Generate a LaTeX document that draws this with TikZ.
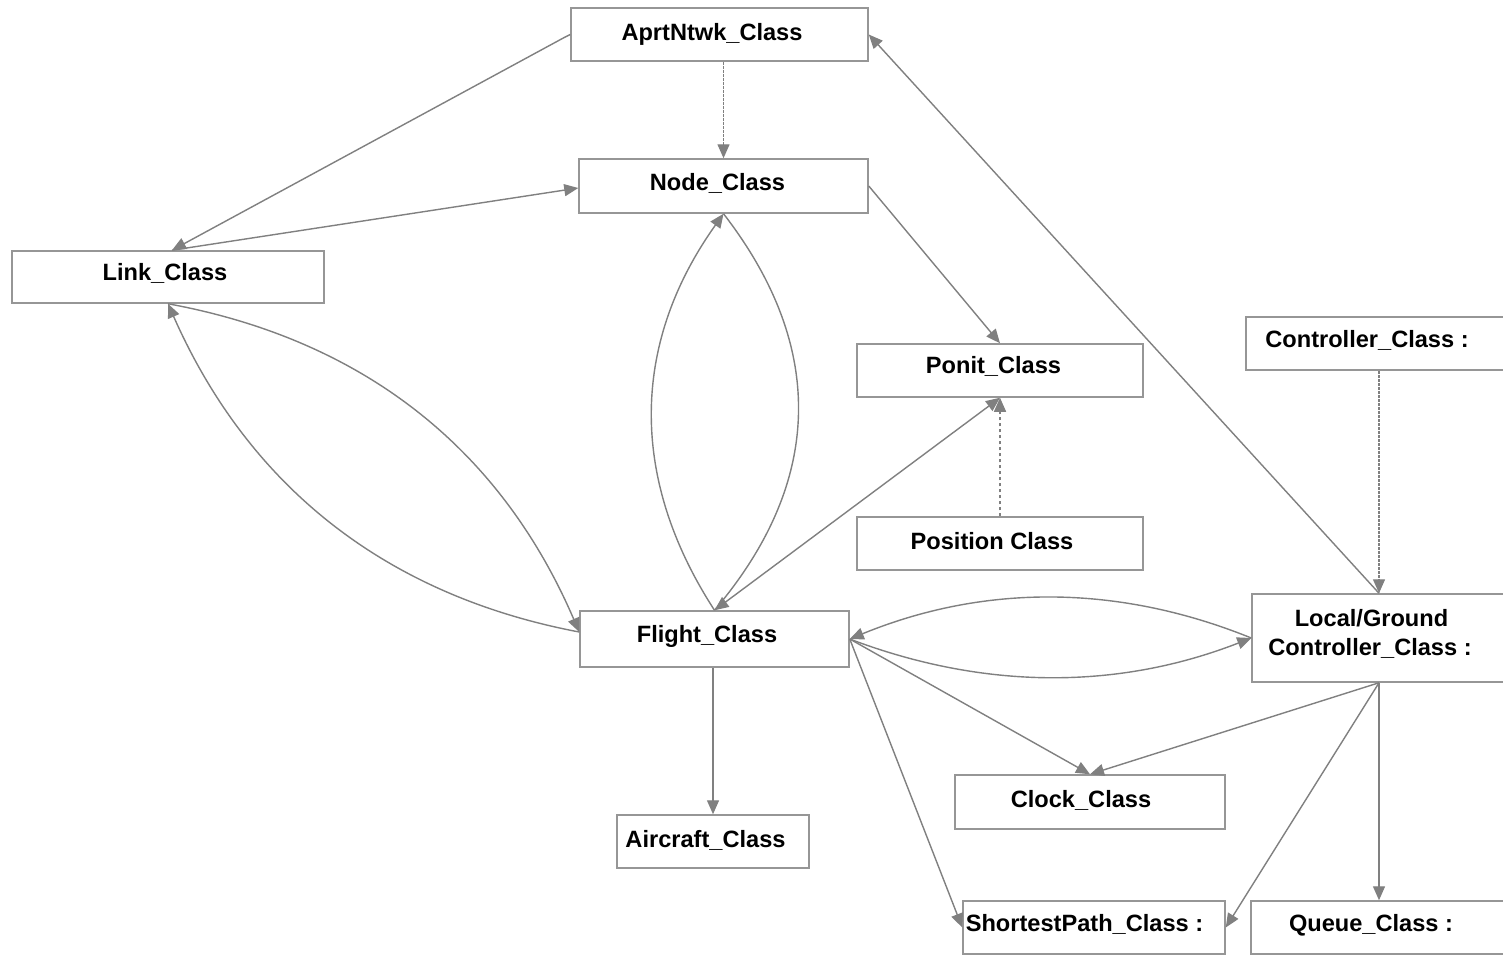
\documentclass[tikz,border=0pt]{standalone}
\usepackage{fontspec}
\setmainfont{Liberation Sans}
\usetikzlibrary{arrows.meta,calc}
\definecolor{linegray}{RGB}{128,128,128}
\definecolor{boxgray}{RGB}{150,150,150}
\tikzset{
  box/.style={draw=boxgray, line width=1.5pt, rectangle, inner sep=0pt},
  lbl/.style={font=\fontsize{23.6}{28}\selectfont\bfseries, anchor=base, inner sep=0pt},
  conn/.style={draw=linegray, line width=1.4pt},
  >={Triangle[length=14pt,width=12pt]},
  densedash/.style={dash pattern=on 3pt off 1pt},
}
\begin{document}
\begin{tikzpicture}[x=1pt,y=-1pt]
\useasboundingbox (0,0) rectangle (1503,955);
\clip (0,0) rectangle (1503,955);
\fill[white] (0,0) rectangle (1503,955);
% boxes
\node[box, minimum width=297pt, minimum height=53pt] (apr) at (719.5,34.5) {};
\node[box, minimum width=289pt, minimum height=54pt] (node) at (723.5,186) {};
\node[box, minimum width=312pt, minimum height=52pt] (link) at (168,277) {};
\node[box, minimum width=286pt, minimum height=53pt] (ponit) at (1000,370.5) {};
\node[box, minimum width=286pt, minimum height=53pt] (position) at (1000,543.5) {};
\node[box, minimum width=266pt, minimum height=53pt] (controller) at (1379,343.5) {};
\node[box, minimum width=269pt, minimum height=56pt] (flight) at (714.5,639) {};
\node[box, minimum width=254pt, minimum height=88pt] (local) at (1379,638) {};
\node[box, minimum width=270pt, minimum height=54pt] (clock) at (1090,802) {};
\node[box, minimum width=192pt, minimum height=53pt] (aircraft) at (713,841.5) {};
\node[box, minimum width=262pt, minimum height=53pt] (shortest) at (1094,927.5) {};
\node[box, minimum width=256pt, minimum height=53pt] (queue) at (1379,927.5) {};
% connectors
\draw[conn,->] (apr.west) -- ++(-6,3) -- ([xshift=4pt]link.north);
\draw[conn,->] ([xshift=4pt]link.north) -- ([yshift=-2pt]node.west);
\draw[conn,->,densedash] (apr.south -| node.north) -- (node.north);
\draw[conn,->] (node.east) -- (ponit.north);
\draw[conn,->,dashed] (position.north) -- (ponit.south);
\draw[conn,<->] (flight.north) -- (ponit.south);
\draw[conn,->] (flight.north) .. controls (630,480) and (630,345) .. (node.south);
\draw[conn] (node.south) .. controls (825,345) and (825,480) .. (flight.north);
\draw[conn,->] ([yshift=7pt]flight.west) .. controls (384,595) and (248,485) .. (link.south);
\draw[conn,->] (link.south) .. controls (365,340) and (501,450) .. ([yshift=7pt]flight.west);
\draw[conn,->] (local.west) .. controls (1118,584) and (984,584) .. (flight.east);
\draw[conn,->] (flight.east) .. controls (984,690) and (1118,690) .. (local.west);
\draw[conn,->] (aircraft.north |- flight.south) -- (aircraft.north);
\draw[conn,->] (flight.east) -- (clock.north);
\draw[conn,->] (flight.east) -- (shortest.west);
\draw[conn,->] (local.south) -- (clock.north);
\draw[conn,->] (local.south) -- (shortest.east);
\draw[conn,->] (local.south) -- (queue.north);
\draw[conn,->,densedash] (controller.south) -- (local.north);
\draw[conn,->] (local.north) -- (apr.east);
% labels
\node[lbl] (aprT) at (712,41) {AprtNtwk\_Class};
\node[lbl] (nodeT) at (717.5,190) {Node\_Class};
\node[lbl] (linkT) at (165,280) {Link\_Class};
\node[lbl] (ponitT) at (993.5,373) {Ponit\_Class};
\node[lbl] (positionT) at (992,549) {Position Class};
\node[lbl] (controllerT) at (1367,347) {Controller\_Class :};
\node[lbl] (flightT) at (707,642) {Flight\_Class};
\node[lbl] (localT1) at (1371.5,626) {Local/Ground};
\node[lbl] (localT2) at (1370,655) {Controller\_Class :};
\node[lbl] (clockT) at (1081,807) {Clock\_Class};
\node[lbl] (aircraftT) at (705.5,847) {Aircraft\_Class};
\node[lbl] (shortestT) at (1084.5,931) {ShortestPath\_Class :};
\node[lbl] (queueT) at (1371,931) {Queue\_Class :};
\end{tikzpicture}
\end{document}
